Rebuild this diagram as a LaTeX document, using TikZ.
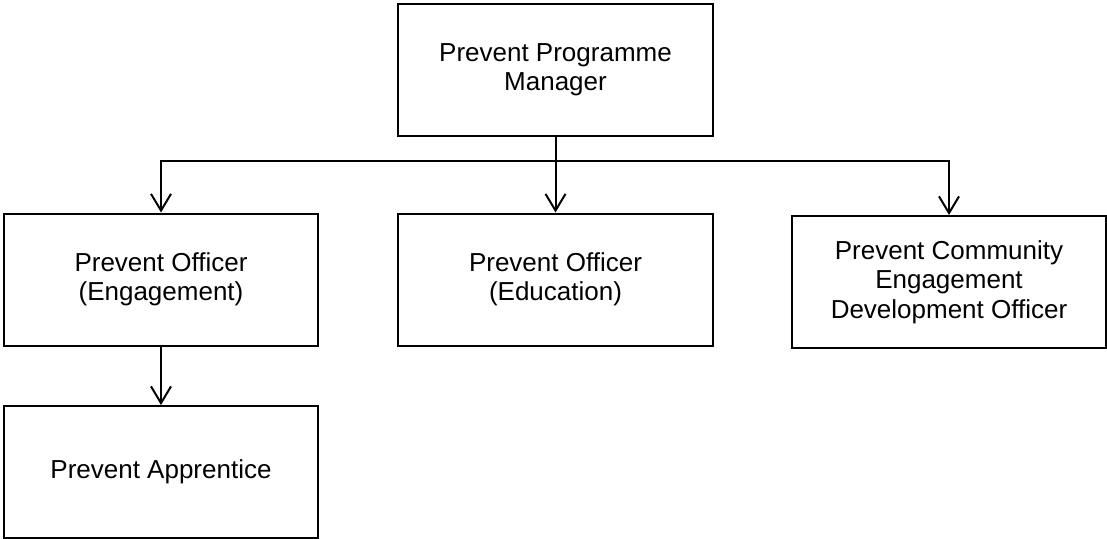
\documentclass[tikz,border=0pt]{standalone}
\usepackage{fontspec}
\setmainfont{Liberation Sans}
\usetikzlibrary{arrows.meta}

\tikzset{
  post/.style={rectangle,draw,line width=1.5pt,minimum width=236pt,minimum height=99pt,
               inner sep=0pt,align=center,font=\fontsize{19.5}{22}\selectfont},
  >={Straight Barb[length=12.5pt,width=15pt]}
}

\begin{document}
\begin{tikzpicture}[x=0.75pt,y=-0.75pt,line width=1.5pt]
    \useasboundingbox (0,0) rectangle (1107,539);
    \node (mgr) at(555.5,70) [post] {Prevent Programme\\Manager};
    \node (eng) at(161,279.5) [post] {Prevent Officer\\(Engagement)};
    \node (edu) at(555.5,279.5) [post] {Prevent Officer\\(Education)};
    \node (comm) at(949,282) [post] {Prevent Community\\Engagement\\Development Officer};
    \node (appr) at(161,472) [post] {Prevent Apprentice};
    \coordinate (bus) at(555.5,161);
    % manager to the three officers
    \draw (mgr) -- (bus);
    \draw[->] (bus) -- (edu);
    \draw[->] (bus) -| (eng);
    \draw[->] (bus) -| (comm);
    \draw[->] (eng) -- (appr);
\end{tikzpicture}
\end{document}
